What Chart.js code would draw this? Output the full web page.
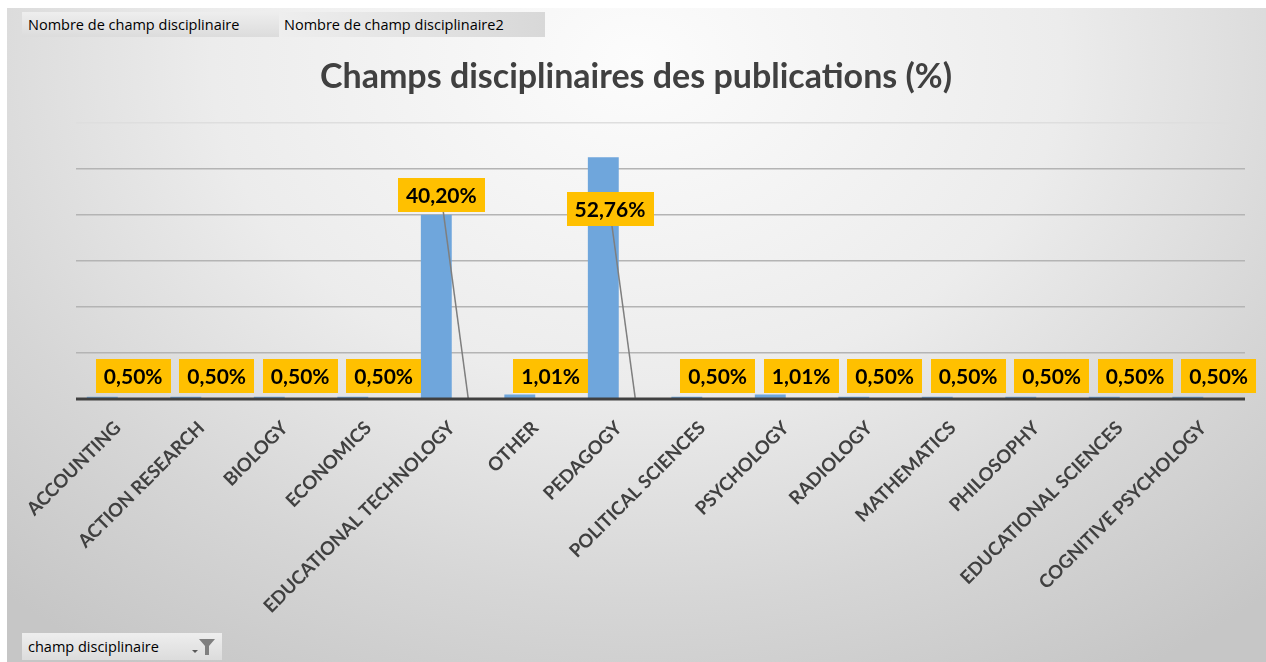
<!DOCTYPE html>
<html>
<head>
<meta charset="utf-8">
<script src="https://cdn.jsdelivr.net/npm/chart.js@4"></script>
<style>
  html, body { margin: 0; padding: 0; background: #fff; }
  #wrap { position: relative; width: 1266px; height: 662px; overflow: hidden; }
  #bg {
    position: absolute; left: 7px; top: 8px; width: 1259px; height: 654px;
    background: radial-gradient(ellipse 75% 110% at 50% 8%, #fcfcfc 0%, #ececec 45%, #d6d6d6 75%, #c6c6c6 100%);
  }
  #c { position: absolute; left: 0; top: 0; }
  .btn {
    position: absolute; height: 25px; line-height: 25px; font-family: "Open Sans", sans-serif;
    font-size: 14.5px; color: #000; padding-left: 6px; box-sizing: border-box;
    background: linear-gradient(to bottom, #eeeeee, #dcdcdc);
  }
  .btn svg { position: absolute; right: 6px; top: 5px; }
</style>
</head>
<body>
<div id="wrap">
  <div id="bg"></div>
  <canvas id="c" width="1266" height="662"></canvas>
  <div class="btn" style="left:22px;top:12px;width:257px;">Nombre de champ disciplinaire</div>
  <div class="btn" style="left:280px;top:12px;width:265px;padding-left:4px;background:linear-gradient(to right,#eeeeee,#d8d8d8);">Nombre de champ disciplinaire2</div>
  <div class="btn" style="left:22px;top:633px;width:200px;height:27px;line-height:27px;">champ disciplinaire
    <svg width="26" height="18" viewBox="0 0 26 18">
      <path d="M2 12 L8 12 L5 15 Z" fill="#595959"/>
      <path d="M9 1 L25 1 L19 8 L19 17 L15 17 L15 8 Z" fill="#7f7f7f"/>
    </svg>
  </div>
</div>
<script>
var categories = ["ACCOUNTING", "ACTION RESEARCH", "BIOLOGY", "ECONOMICS", "EDUCATIONAL TECHNOLOGY",
  "OTHER", "PEDAGOGY", "POLITICAL SCIENCES", "PSYCHOLOGY", "RADIOLOGY", "MATHEMATICS",
  "PHILOSOPHY", "EDUCATIONAL SCIENCES", "COGNITIVE PSYCHOLOGY"];
var counts = [1, 1, 1, 1, 80, 2, 105, 1, 2, 1, 1, 1, 1, 1];
var shares = [0.0050, 0.0050, 0.0050, 0.0050, 0.4020, 0.0101, 0.5276, 0.0050, 0.0101, 0.0050, 0.0050, 0.0050, 0.0050, 0.0050];
var yTicks = [0, 20, 40, 60, 80, 100, 120];

// labels that were dragged away from their bar in the original (dx in category widths, y in axis value)
var movedLabels = { 4: { dx: -0.31, y: 88.7 }, 6: { dx: -0.29, y: 82.6 } };

function fmtPct(v) {
    return (v * 100).toFixed(2).replace(".", ",") + "%";
}

var labelPlugin = {
    id: "shareLabels",
    afterDatasetsDraw(chart) {
        var ctx = chart.ctx;
        var meta = chart.getDatasetMeta(1);
        var xs = chart.scales.x, ys = chart.scales.y;
        var catW = (xs.right - xs.left) / categories.length;
        ctx.save();
        ctx.font = "bold 21px Lato";
        ctx.textAlign = "center";
        ctx.textBaseline = "middle";
        meta.data.forEach(function (el, i) {
            var txt = fmtPct(shares[i]);
            var w = ctx.measureText(txt).width + 16;
            var h = 34;
            var cx = el.x, cy = el.y - 6 - h / 2;
            var mv = movedLabels[i];
            if (mv) {
                cx = el.x + mv.dx * catW;
                cy = ys.getPixelForValue(mv.y);
                ctx.strokeStyle = "#7f7f7f";
                ctx.lineWidth = 1.5;
                ctx.beginPath();
                ctx.moveTo(cx + 2, cy + h / 2);
                ctx.lineTo(el.x + 1, el.y);
                ctx.stroke();
            }
            ctx.fillStyle = "#ffc000";
            ctx.fillRect(Math.round(cx - w / 2), Math.round(cy - h / 2), Math.round(w), h);
            ctx.fillStyle = "#000";
            ctx.fillText(txt, cx, cy + 1);
        });
        ctx.restore();
    }
};

var axisLine = {
    id: "axisLine",
    afterDatasetsDraw(chart) {
        var a = chart.chartArea, ctx = chart.ctx;
        ctx.save();
        ctx.strokeStyle = "#404040";
        ctx.lineWidth = 3;
        ctx.beginPath();
        ctx.moveTo(a.left, a.bottom);
        ctx.lineTo(a.right, a.bottom);
        ctx.stroke();
        ctx.restore();
    }
};

new Chart(document.getElementById("c"), {
    type: "bar",
    data: {
        labels: categories,
        datasets: [{
            label: "Nombre de champ disciplinaire",
            data: counts,
            backgroundColor: "#6fa6dc",
            categoryPercentage: 0.74,
            barPercentage: 1
        }, {
            label: "Nombre de champ disciplinaire2",
            data: shares,
            backgroundColor: "rgba(0,0,0,0)",
            categoryPercentage: 0.74,
            barPercentage: 1
        }]
    },
    options: {
        responsive: false,
        animation: false,
        layout: { padding: { left: 27, right: 21, top: 0, bottom: 0 } },
        plugins: {
            legend: { display: false },
            tooltip: { enabled: false },
            title: {
                display: true,
                text: "Champs disciplinaires des publications (%)",
                color: "#404040",
                font: { family: "Lato", size: 34, weight: "bold" },
                padding: { top: 57, bottom: 25 }
            }
        },
        scales: {
            x: {
                grid: { display: false, drawTicks: false },
                border: { display: false },
                ticks: {
                    color: "#404040",
                    font: { family: "Lato", size: 18.5, weight: "bold" },
                    minRotation: 45,
                    maxRotation: 45,
                    autoSkip: false,
                    padding: 18
                },
                afterFit: function (s) { s.height = 263; }
            },
            y: {
                min: 0,
                max: 120,
                afterBuildTicks: function (s) { s.ticks = yTicks.map(function (v) { return { value: v }; }); },
                ticks: { display: false },
                border: { display: false },
                grid: {
                    drawTicks: false,
                    lineWidth: 1.5,
                    color: function (c) { return c.tick.value === 120 ? "#dedede" : "#b4b4b4"; }
                },
                afterFit: function (s) { s.width = 49; }
            }
        }
    },
    plugins: [labelPlugin, axisLine]
});
</script>
</body>
</html>
